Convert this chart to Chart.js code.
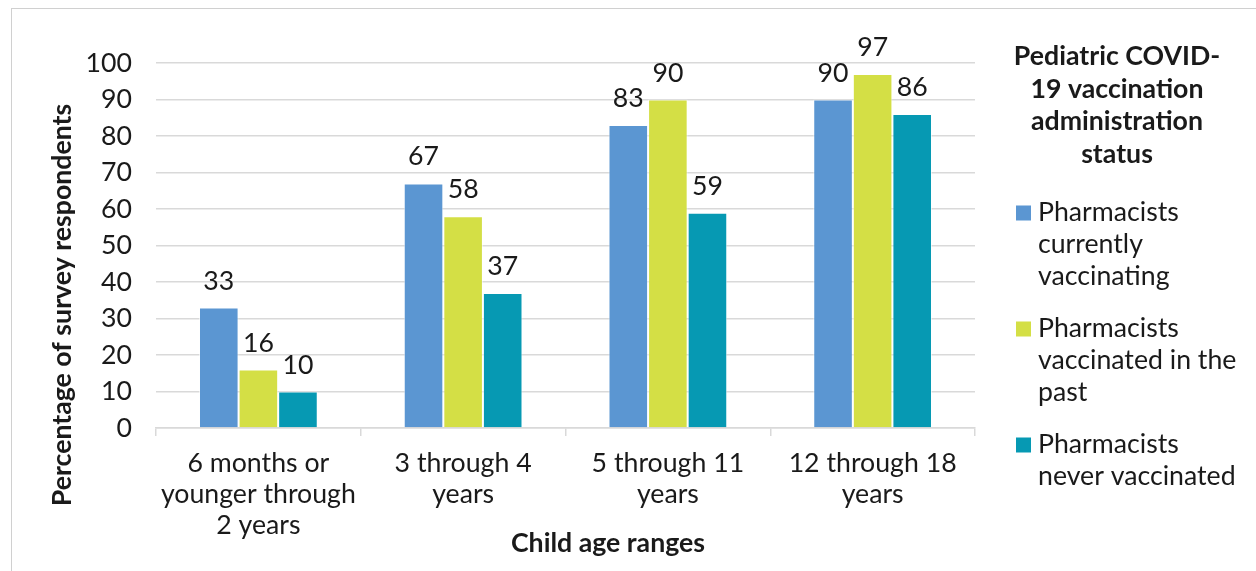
<!DOCTYPE html>
<html>
<head>
<meta charset="utf-8">
<script src="https://cdn.jsdelivr.net/npm/chart.js@4.4.1/dist/chart.umd.min.js"></script>
<style>
  html, body { margin: 0; padding: 0; background: #ffffff; }
  #wrap { position: relative; width: 1256px; height: 571px; overflow: hidden; }
  #frame { position: absolute; left: 11px; top: 8px; width: 1260px; height: 600px; border: 1px solid #d0d0d0; box-sizing: border-box; }
  canvas { position: absolute; left: 0; top: 0; }
</style>
</head>
<body>
<div id="wrap">
  <div id="frame"></div>
  <canvas id="chart" width="1256" height="571"></canvas>
</div>
<script>
// Age groups on the category axis (multi-line labels)
const ageRanges = [
  ['6 months or', 'younger through', '2 years'],
  ['3 through 4', 'years'],
  ['5 through 11', 'years'],
  ['12 through 18', 'years']
];

// Percentage of respondents per vaccination status
const currentlyVaccinating = [33, 67, 83, 90];
const vaccinatedInPast = [16, 58, 90, 97];
const neverVaccinated = [10, 37, 59, 86];

// Legend entries, wrapped as they are printed
const seriesNames = [
  ['Pharmacists', 'currently', 'vaccinating'],
  ['Pharmacists', 'vaccinated in the', 'past'],
  ['Pharmacists', 'never vaccinated']
];
const legendTitle = ['Pediatric COVID-', '19 vaccination', 'administration', 'status'];

const yTicks = [0, 10, 20, 30, 40, 50, 60, 70, 80, 90, 100];
const yTitle = 'Percentage of survey respondents';
const xTitle = 'Child age ranges';

const colors = ['#5b96d2', '#d4df45', '#0699b3'];
const FONT = 'Lato, "Open Sans", sans-serif';
const SIZE = 26.7;
const TEXT = '#1a1a1a';

// Numbers printed above each bar
const valueLabels = {
  id: 'valueLabels',
  afterDatasetsDraw(chart) {
    const ctx = chart.ctx;
    ctx.save();
    ctx.font = SIZE + 'px ' + FONT;
    ctx.fillStyle = TEXT;
    ctx.textAlign = 'center';
    ctx.textBaseline = 'alphabetic';
    chart.data.datasets.forEach((ds, i) => {
      chart.getDatasetMeta(i).data.forEach((bar, j) => {
        ctx.fillText(String(ds.data[j]), bar.x, bar.y - 18);
      });
    });
    ctx.restore();
  }
};

// Axis titles placed around the plot
const axisTitles = {
  id: 'axisTitles',
  afterDraw(chart) {
    const ctx = chart.ctx;
    ctx.save();
    ctx.fillStyle = TEXT;
    ctx.font = 'bold ' + SIZE + 'px ' + FONT;
    ctx.textAlign = 'center';
    ctx.textBaseline = 'alphabetic';
    ctx.fillText(xTitle, 608, 552);
    ctx.translate(71, 305);
    ctx.rotate(-Math.PI / 2);
    ctx.fillText(yTitle, 0, 0);
    ctx.restore();
  }
};

// Legend on the right with a bold wrapped title
const sideLegend = {
  id: 'sideLegend',
  afterDraw(chart) {
    const ctx = chart.ctx;
    ctx.save();
    ctx.fillStyle = TEXT;
    ctx.font = 'bold ' + SIZE + 'px ' + FONT;
    ctx.textAlign = 'center';
    ctx.textBaseline = 'alphabetic';
    legendTitle.forEach((line, i) => ctx.fillText(line, 1117, 65 + i * 32.5));
    ctx.font = SIZE + 'px ' + FONT;
    ctx.textAlign = 'left';
    let y = 220.5;
    chart.data.datasets.forEach((ds, i) => {
      ctx.fillStyle = ds.backgroundColor;
      ctx.fillRect(1016, y - 15, 15, 15);
      ctx.fillStyle = TEXT;
      seriesNames[i].forEach((line, k) => ctx.fillText(line, 1038, y + k * 32));
      y += seriesNames[i].length * 32 + 20;
    });
    ctx.restore();
  }
};

new Chart(document.getElementById('chart'), {
  type: 'bar',
  data: {
    labels: ageRanges,
    datasets: [
      { label: 'Pharmacists currently vaccinating', data: currentlyVaccinating, backgroundColor: colors[0] },
      { label: 'Pharmacists vaccinated in the past', data: vaccinatedInPast, backgroundColor: colors[1] },
      { label: 'Pharmacists never vaccinated', data: neverVaccinated, backgroundColor: colors[2] }
    ].map(d => Object.assign(d, { borderColor: 'rgba(255,255,255,0.6)', borderWidth: 1, categoryPercentage: 0.58, barPercentage: 1.0 }))
  },
  options: {
    responsive: false,
    animation: false,
    layout: { padding: { left: 0, right: 281, top: 63, bottom: 0 } },
    plugins: { legend: { display: false }, tooltip: { enabled: false } },
    scales: {
      x: {
        grid: { display: true, drawOnChartArea: false, color: '#d9d9d9', lineWidth: 1.5, tickLength: 8, offset: true },
        border: { color: '#d9d9d9', width: 1.5 },
        ticks: { color: TEXT, font: { family: FONT, size: SIZE, lineHeight: 1.17 }, padding: 11.5, maxRotation: 0, autoSkip: false },
        afterFit(scale) { scale.height = 143; }
      },
      y: {
        min: 0,
        max: 100,
        afterBuildTicks(scale) { scale.ticks = yTicks.map(v => ({ value: v })); },
        grid: { color: '#d9d9d9', lineWidth: 1.5, drawTicks: false },
        border: { display: false },
        ticks: { color: TEXT, font: { family: FONT, size: SIZE }, padding: 24 },
        afterFit(scale) { scale.width = 156; }
      }
    }
  },
  plugins: [valueLabels, axisTitles, sideLegend]
});
</script>
</body>
</html>
